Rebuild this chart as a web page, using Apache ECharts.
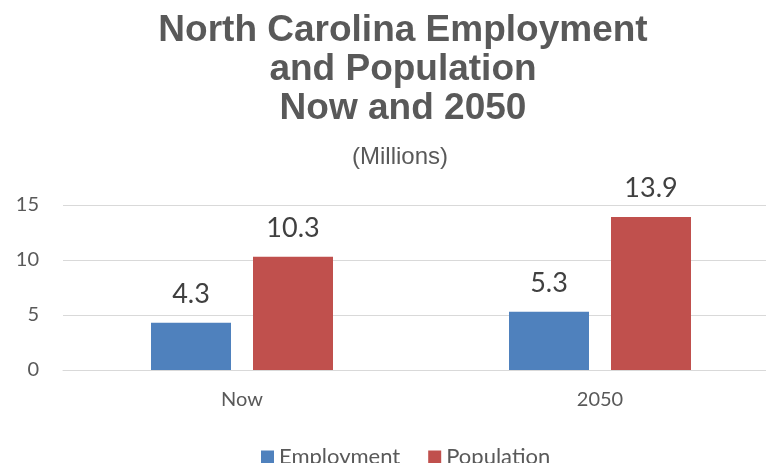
<!DOCTYPE html>
<html><head><meta charset="utf-8">
<script src="https://cdn.jsdelivr.net/npm/echarts@6/dist/echarts.min.js"></script>
<style>html,body{margin:0;padding:0;background:#fff;overflow:hidden}#c{width:779px;height:463px}</style>
</head><body><div id="c"></div>
<script>
const categories = ['Now', '2050'];
const employment = [4.3, 5.3];
const population = [10.3, 13.9];
const yTicks = [0, 5, 10, 15];

const chart = echarts.init(document.getElementById('c'), null, {renderer: 'canvas'});
const labelStyle = {show: true, position: 'top', distance: 15, fontFamily: 'Lato', fontSize: 27, color: '#404040', formatter: p => p.value.toFixed(1)};
chart.setOption({
  animation: false,
  backgroundColor: '#fff',
  title: [{
    text: 'North Carolina Employment\nand Population\nNow and 2050',
    left: 398, top: 6, textAlign: 'center',
    textStyle: {fontFamily: 'Liberation Sans', fontWeight: 'bold', fontSize: 37, lineHeight: 39, color: '#595959', align: 'center'}
  }, {
    text: '(Millions)',
    left: 395, top: 140, textAlign: 'center',
    textStyle: {fontFamily: 'Liberation Sans', fontWeight: 'normal', fontSize: 24, color: '#595959'}
  }],
  legend: {
    bottom: -10, left: 256,
    itemWidth: 13, itemHeight: 13, itemGap: 28,
    icon: 'rect',
    textStyle: {fontFamily: 'Lato', fontSize: 22, color: '#595959'},
    data: ['Employment', 'Population']
  },
  grid: {left: 63, top: 205, width: 716, bottom: 93, containLabel: false},
  xAxis: {
    type: 'category', data: categories,
    axisLine: {lineStyle: {color: '#d9d9d9', width: 1}},
    axisTick: {show: false},
    axisLabel: {fontFamily: 'Lato', fontSize: 20, color: '#595959', margin: 20}
  },
  yAxis: {
    type: 'value', min: yTicks[0], max: yTicks[yTicks.length - 1], interval: 5,
    axisLine: {show: false}, axisTick: {show: false},
    axisLabel: {fontFamily: 'Lato', fontSize: 20, color: '#595959', margin: 24},
    splitLine: {lineStyle: {color: '#d9d9d9', width: 1}}
  },
  series: [{
    name: 'Employment', type: 'bar', data: employment, barWidth: 80, barGap: '27.5%',
    itemStyle: {color: '#4f81bd'}, label: labelStyle
  }, {
    name: 'Population', type: 'bar', data: population, barWidth: 80,
    itemStyle: {color: '#c0504d'}, label: labelStyle
  }]
});
</script></body></html>
